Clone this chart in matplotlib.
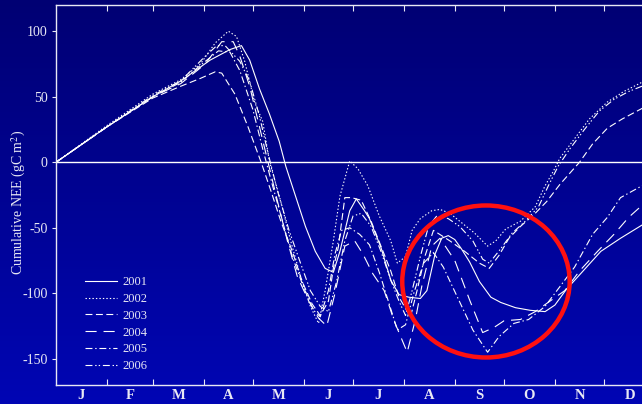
import numpy as np
import matplotlib
matplotlib.use("Agg")
import matplotlib.pyplot as plt
from matplotlib.patches import Ellipse

plt.rcParams['font.family'] = ['Liberation Serif', 'DejaVu Serif']
plt.rcParams['mathtext.fontset'] = 'stix'
plt.rcParams['lines.scale_dashes'] = False

# day of year / cumulative NEE (gC m-2)
day_2001 = [0, 31, 59, 76, 94, 106, 113, 118, 124, 130, 136, 140, 146, 152, 158, 164, 169, 173, 179, 183,
            188, 191, 198, 204, 209, 215, 222, 226, 231, 235, 239, 243, 247, 252, 258, 265, 271, 280, 289,
            298, 304, 311, 319, 332, 344, 357, 365]
nee_2001 = [0, 27, 50, 62, 78, 86, 89, 78, 56, 37, 16, -3, -26, -49, -68, -81, -84, -68, -37, -28,
            -37, -43, -65, -90, -101, -103, -104, -98, -70, -58, -56, -59, -66, -76, -91, -103, -107, -111, -113,
            -114, -109, -97, -86, -68, -58, -48, -43]

day_2002 = [0, 31, 59, 76, 88, 97, 105, 110, 115, 121, 126, 130, 137, 143, 149, 155, 160, 164, 169, 173,
            179, 184, 190, 197, 204, 208, 213, 217, 222, 229, 234, 240, 248, 255, 263, 268, 274, 283, 292,
            298, 303, 307, 316, 325, 336, 346, 357, 365]
nee_2002 = [0, 28, 52, 63, 75, 91, 100, 96, 77, 46, 31, 1, -30, -60, -87, -110, -123, -98, -60, -26,
            1, -5, -18, -41, -60, -77, -72, -52, -43, -37, -36, -39, -47, -54, -64, -60, -51, -45, -34,
            -18, -7, 3, 18, 33, 46, 54, 61, 66]

day_2003 = [0, 31, 59, 76, 88, 97, 101, 109, 117, 125, 131, 137, 144, 150, 156, 161, 166, 169, 172,
            176, 180, 186, 192, 198, 204, 209, 216, 220, 225, 230, 240, 249, 258, 264, 270, 276, 283, 292,
            299, 307, 319, 327, 336, 345, 357, 365]
nee_2003 = [0, 27, 49, 58, 64, 69, 68, 52, 27, 0, -22, -45, -68, -91, -108, -117, -106, -81, -65,
            -27, -27, -29, -45, -64, -83, -103, -118, -98, -71, -52, -60, -68, -77, -81, -71, -58, -49, -39,
            -30, -17, 0, 14, 26, 33, 41, 46]

day_2004 = [0, 31, 59, 76, 91, 101, 108, 112, 118, 124, 129, 135, 141, 147, 154, 160, 165, 170, 176,
            182, 187, 193, 200, 206, 211, 214, 219, 223, 229, 234, 243, 252, 260, 267, 273, 283, 292, 301,
            310, 319, 330, 340, 349, 357, 365]
nee_2004 = [0, 27, 50, 60, 75, 92, 92, 81, 58, 27, 1, -30, -60, -87, -106, -119, -125, -100, -64,
            -60, -70, -85, -98, -121, -136, -145, -120, -94, -64, -58, -75, -105, -130, -126, -121, -120, -114, -106,
            -98, -83, -68, -55, -42, -33, -27]

day_2005 = [0, 31, 59, 76, 88, 99, 106, 112, 120, 126, 132, 138, 144, 151, 157, 161, 166, 170, 174,
            179, 185, 191, 197, 203, 208, 213, 218, 224, 230, 236, 245, 254, 263, 270, 279, 288, 298, 307,
            316, 327, 336, 344, 357, 365]
nee_2005 = [0, 27, 50, 61, 74, 85, 84, 70, 40, 10, -18, -45, -72, -96, -113, -118, -98, -70, -52,
            -50, -55, -63, -84, -108, -128, -124, -100, -77, -69, -80, -104, -128, -145, -133, -123, -120, -110, -95,
            -80, -55, -42, -27, -18, -12]

day_2006 = [0, 31, 59, 76, 91, 98, 103, 112, 118, 124, 129, 135, 142, 149, 155, 161, 166, 171, 176,
            181, 186, 192, 198, 204, 209, 213, 217, 222, 227, 232, 239, 246, 254, 260, 264, 271, 278, 286,
            294, 300, 306, 313, 322, 331, 340, 349, 357, 365]
nee_2006 = [0, 27, 51, 62, 81, 89, 89, 77, 62, 35, 8, -22, -52, -77, -98, -110, -114, -91, -60,
            -41, -39, -49, -68, -90, -106, -117, -98, -72, -49, -41, -43, -49, -60, -74, -77, -66, -54, -45,
            -34, -18, -3, 10, 25, 39, 48, 54, 58, 62]

years = ['2001', '2002', '2003', '2004', '2005', '2006']
days = [day_2001, day_2002, day_2003, day_2004, day_2005, day_2006]
nee = [nee_2001, nee_2002, nee_2003, nee_2004, nee_2005, nee_2006]
styles = ['-', (0, (1, 1.5)), (0, (5, 2.5)), (0, (8, 5)), (0, (5, 2, 1, 2)), (0, (5, 2, 1, 1.5, 1, 2))]

month_ends = [31, 59, 90, 120, 151, 181, 212, 243, 273, 304, 334]
month_mid = [15.5, 45, 74.5, 105, 135.5, 166, 196.5, 227.5, 258, 288.5, 319, 349.5]
month_labels = ['J', 'F', 'M', 'A', 'M', 'J', 'J', 'A', 'S', 'O', 'N', 'D']
yticks = [-150, -100, -50, 0, 50, 100]

fig = plt.figure(figsize=(6.42, 4.04), dpi=100)

# blue gradient background
bg = fig.add_axes([0, 0, 1, 1], zorder=-10)
grad = np.linspace(0, 1, 256).reshape(-1, 1)
top = np.array([0, 0, 115]) / 255
bot = np.array([0, 6, 180]) / 255
img = top + (bot - top) * grad[:, :, None]
bg.imshow(img, aspect='auto', extent=[0, 1, 0, 1])
bg.axis('off')

ax = fig.add_axes([56/642, 1-385/404, (655-56)/642, 380/404])
ax.set_facecolor('none')
fg = '#e8e8f4'

for d, v, s, y in zip(days, nee, styles, years):
    ax.plot(d, v, color='white', lw=0.8, linestyle=s, label=y)

ax.axhline(0, color='white', lw=1.0)

ax.add_patch(Ellipse((262, -91), width=102, height=116, fill=False, edgecolor='#ff1010', lw=3.2, zorder=5))

ax.set_xlim(0, 365)
ax.set_ylim(-170, 120)

ax.set_xticks(month_ends)
ax.set_xticklabels([])
ax.set_xticks(month_mid, minor=True)
ax.set_xticklabels(month_labels, minor=True, fontsize=10.5, fontweight='bold', color=fg)
ax.tick_params(axis='x', which='major', direction='in', length=4, color=fg, top=True, bottom=True)
ax.tick_params(axis='x', which='minor', length=0, pad=3)
ax.set_yticks(yticks)
ax.set_yticklabels([str(t) for t in yticks], fontsize=10, color=fg)
ax.tick_params(axis='y', direction='out', length=3, color=fg, pad=3)

for side in ['top', 'left', 'bottom', 'right']:
    ax.spines[side].set_color(fg)
    ax.spines[side].set_linewidth(1.0)

ax.set_ylabel('Cumulative NEE (gC m$^{2}$)', fontsize=10, color=fg)
ax.yaxis.set_label_coords(-0.047, 0.48)

leg = ax.legend(loc='upper left', bbox_to_anchor=(79/642, 1-270/404), bbox_transform=fig.transFigure,
                frameon=False, fontsize=9, handlelength=2.5, handletextpad=0.45, labelspacing=0.38,
                borderpad=0)
for t in leg.get_texts():
    t.set_color(fg)

fig.savefig('out.png', dpi=100)
